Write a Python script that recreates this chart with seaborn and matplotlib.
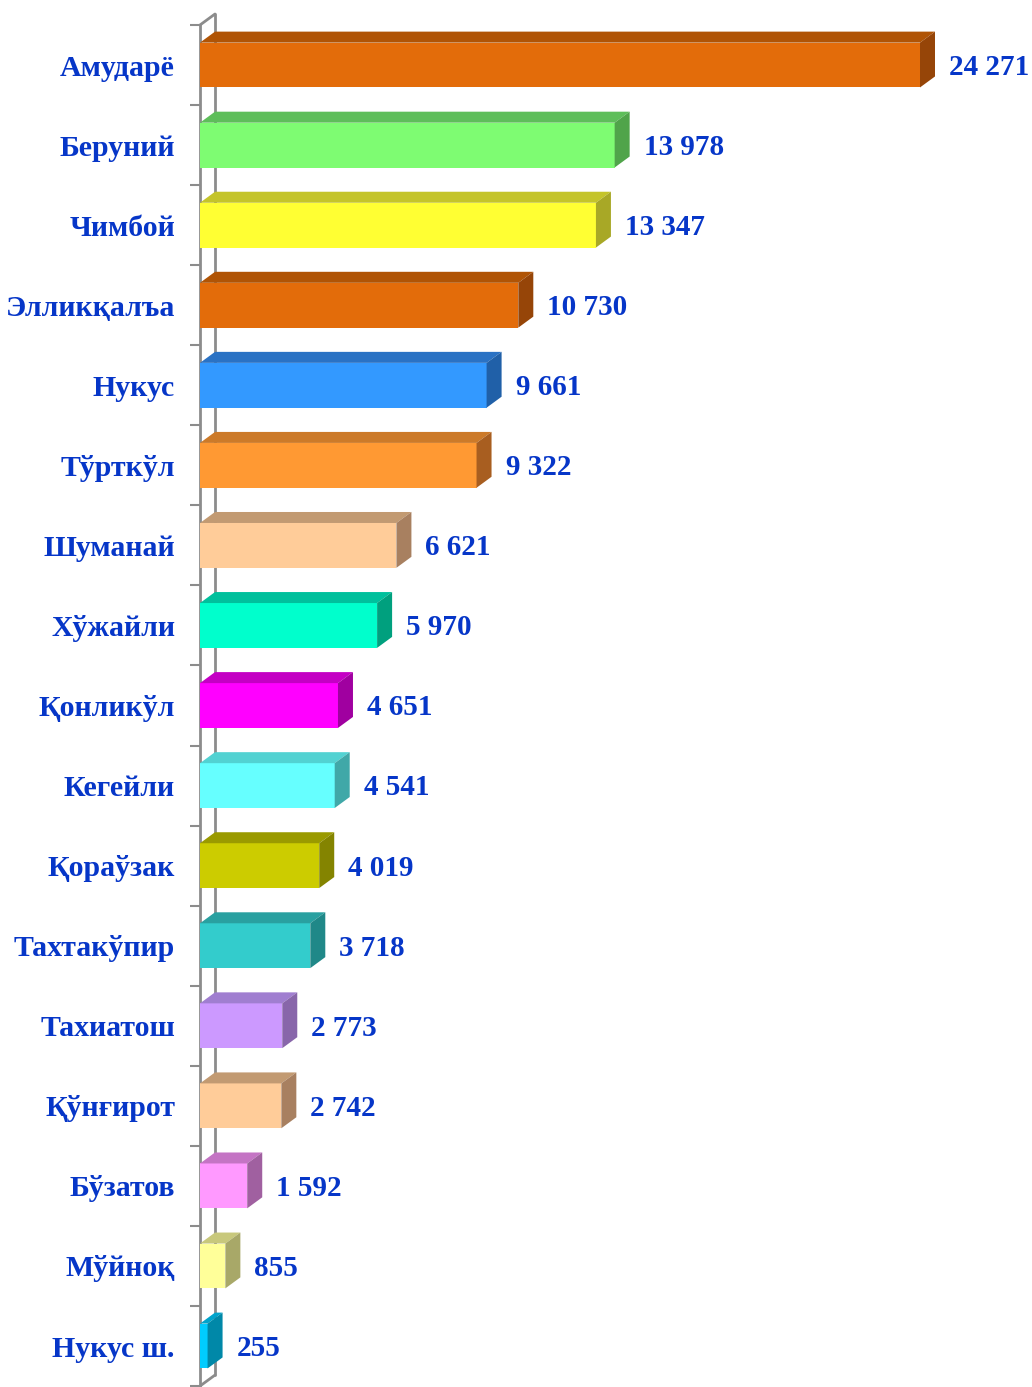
import matplotlib
matplotlib.use("Agg")
import matplotlib.pyplot as plt
import seaborn as sns
import numpy as np
import pandas as pd
from matplotlib.patches import Polygon
from matplotlib.ticker import FixedLocator

categories = ["Амударё", "Беруний", "Чимбой", "Элликқалъа", "Нукус", "Тўрткўл",
              "Шуманай", "Хўжайли", "Қонликўл", "Кегейли", "Қораўзак", "Тахтакўпир",
              "Тахиатош", "Қўнғирот", "Бўзатов", "Мўйноқ", "Нукус ш."]
values = [24271, 13978, 13347, 10730, 9661, 9322, 6621, 5970, 4651, 4541,
          4019, 3718, 2773, 2742, 1592, 855, 255]
front_colors = ["#E36C0A", "#7EFC72", "#FFFF33", "#E36C0A", "#3399FF", "#FF9933",
                "#FFCC99", "#00FFCC", "#FF00FF", "#66FFFF", "#CCCC00", "#33CCCC",
                "#CC99FF", "#FFCC99", "#FF99FF", "#FFFF99", "#00CCFF"]
top_colors = ["#B05405", "#5EBE5A", "#C4C42A", "#B05405", "#2A72C4", "#CC7A29",
              "#C29A72", "#00C09C", "#C400C4", "#52D2D2", "#9A9A00", "#29A0A0",
              "#A07ED0", "#C29A72", "#C474C4", "#C8C87C", "#00A4CC"]
side_colors = ["#964508", "#50A44A", "#A8A826", "#964508", "#2060A8", "#A85E20",
               "#A88060", "#00A07E", "#A000A0", "#40A8A8", "#848400", "#208888",
               "#8866AA", "#A88060", "#A060A0", "#A8A868", "#0088A8"]

sns.set_style("white")
plt.rcParams['font.family'] = ['Liberation Serif', 'DejaVu Serif']

df = pd.DataFrame({"cat": categories, "val": values})

fig = plt.figure(figsize=(10.32, 13.87), dpi=100)
W, H = 1032, 1387
px_per_unit = 720 / 24271.0
xmax = 800 / px_per_unit
ax = fig.add_axes([200 / W, 0, 800 / W, (H - 25) / H])

sns.barplot(data=df, x="val", y="cat", hue="cat", palette=front_colors,
            legend=False, orient="h", width=0.56, ax=ax, saturation=1,
            linewidth=0)

ax.set_xlim(0, xmax)
ax.set_ylim(16.5 + 0.012, -0.5)

cat_px = (H - 25) / 17.0
dx = 15 / px_per_unit
dy = 11 / cat_px

labcolor = "#0636C8"
for i, p in enumerate(ax.patches):
    x0, y0, w, h = p.get_x(), p.get_y(), p.get_width(), p.get_height()
    p.set_zorder(3)
    top = Polygon([(x0, y0), (x0 + w, y0), (x0 + w + dx, y0 - dy), (x0 + dx, y0 - dy)],
                  closed=True, facecolor=top_colors[i], edgecolor="none", zorder=3)
    side = Polygon([(x0 + w, y0), (x0 + w + dx, y0 - dy), (x0 + w + dx, y0 + h - dy), (x0 + w, y0 + h)],
                   closed=True, facecolor=side_colors[i], edgecolor="none", zorder=3)
    ax.add_patch(top)
    ax.add_patch(side)
    txt = f"{values[i]:,}".replace(",", " ")
    ax.text(x0 + w + dx + 14 / px_per_unit, y0 + h / 2 + 0.03, txt, ha="left", va="center",
            fontsize=21, fontweight="bold", color=labcolor, clip_on=False, zorder=5)

# back wall and frame lines
lc = "#8C8C8C"
ax.plot([dx, dx], [-0.5 - dy, 16.5 - dy], color=lc, lw=2, zorder=1, clip_on=False)
ax.plot([0, dx], [-0.5, -0.5 - dy], color=lc, lw=2, zorder=1, clip_on=False)
ax.plot([0, dx], [16.5, 16.5 - dy], color=lc, lw=2, zorder=1, clip_on=False)

for s in ["top", "right", "bottom"]:
    ax.spines[s].set_visible(False)
ax.spines["left"].set_color(lc)
ax.spines["left"].set_linewidth(2)
ax.spines["left"].set_zorder(2)

ax.set_xticks([])
ax.set_xlabel("")
ax.set_ylabel("")
ax.yaxis.set_minor_locator(FixedLocator(np.arange(-0.5, 17, 1.0)))
ax.tick_params(axis="y", which="major", length=0, pad=18, labelsize=21.5,
               labelcolor=labcolor)
ax.tick_params(axis="y", which="minor", length=7, width=1.5, color=lc, left=True)
for t in ax.get_yticklabels():
    t.set_fontweight("bold")

fig.savefig("out.png", dpi=100)
